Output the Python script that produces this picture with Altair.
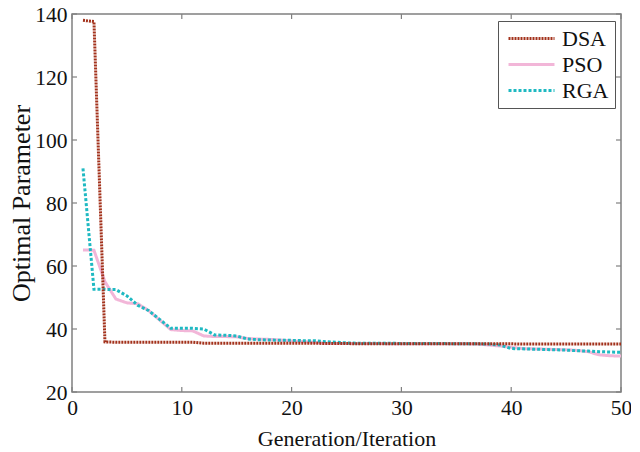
import altair as alt
import pandas as pd

gens = list(range(1, 51))

dsa = [138.0, 137.6, 35.9, 35.8, 35.8, 35.8, 35.8, 35.8, 35.8, 35.8,
       35.8, 35.5, 35.5, 35.5, 35.5, 35.5, 35.5, 35.5, 35.5, 35.5,
       35.5, 35.5, 35.4, 35.4, 35.4, 35.3, 35.3, 35.3, 35.3, 35.3,
       35.3, 35.3, 35.3, 35.3, 35.3, 35.3, 35.3, 35.3, 35.3, 35.3,
       35.2, 35.2, 35.2, 35.2, 35.2, 35.2, 35.2, 35.2, 35.2, 35.2]

pso = [65.1, 65.0, 55.0, 49.5, 48.3, 48.0, 45.8, 42.8, 39.8, 39.5,
       39.4, 37.8, 37.6, 37.6, 37.5, 37.0, 36.8, 36.7, 36.5, 36.2,
       36.0, 35.8, 35.5, 35.4, 35.4, 35.4, 35.4, 35.4, 35.3, 35.3,
       35.3, 35.3, 35.3, 35.3, 35.3, 35.3, 35.2, 34.9, 34.6, 34.2,
       33.8, 33.7, 33.6, 33.5, 33.4, 33.2, 32.8, 31.8, 31.5, 31.4]

rga = [91.0, 52.6, 52.6, 52.5, 50.5, 47.5, 45.8, 43.0, 40.2, 40.2,
       40.2, 40.0, 38.1, 38.0, 37.8, 36.8, 36.6, 36.5, 36.4, 36.4,
       36.3, 36.3, 36.0, 35.8, 35.6, 35.5, 35.5, 35.5, 35.5, 35.4,
       35.4, 35.4, 35.4, 35.4, 35.3, 35.3, 35.3, 35.2, 34.9, 33.8,
       33.7, 33.6, 33.5, 33.4, 33.3, 33.1, 33.0, 32.8, 32.7, 32.6]

series_names = ["DSA", "PSO", "RGA"]
series_colors = ["#a3321c", "#f2b6d8", "#1fb9c2"]
series_dash = [[2, 1], [1, 0], [3, 2]]

x_ticks = [0, 10, 20, 30, 40, 50]
y_ticks = [20, 40, 60, 80, 100, 120, 140]

rows = []
for name, vals in [("PSO", pso), ("RGA", rga), ("DSA", dsa)]:
    for g, v in zip(gens, vals):
        rows.append({"gen": g, "value": v, "series": name})
df = pd.DataFrame(rows)

W, H = 549, 378
FONT = "Liberation Serif"

xscale = alt.Scale(domain=[0, 50], nice=False, zero=False)
yscale = alt.Scale(domain=[20, 140], nice=False, zero=False)

leg = alt.Legend(title=None, orient="none", legendX=426, legendY=7)

lines = alt.Chart(df).mark_line(strokeWidth=3).encode(
    x=alt.X("gen:Q", scale=xscale,
            axis=alt.Axis(values=x_ticks, title="Generation/Iteration", grid=False,
                          domain=False, ticks=False, labelPadding=5, titlePadding=10,
                          labelFlush=False, titleFontSize=22)),
    y=alt.Y("value:Q", scale=yscale,
            axis=alt.Axis(values=y_ticks, title="Optimal Parameter", grid=False,
                          domain=False, ticks=False, labelPadding=5, titlePadding=0,
                          labelFlush=False, titleFontSize=26, labelOffset=1)),
    color=alt.Color("series:N",
                    scale=alt.Scale(domain=series_names, range=series_colors),
                    legend=leg),
    strokeDash=alt.StrokeDash("series:N",
                              scale=alt.Scale(domain=series_names, range=series_dash),
                              legend=leg),
    detail="series:N",
)

xt = pd.DataFrame({"t": x_ticks})
yt = pd.DataFrame({"t": y_ticks})
tick_style = dict(color="#808080", strokeWidth=1.2)

xb = alt.Chart(xt).mark_rule(**tick_style).encode(
    x=alt.X("t:Q", scale=xscale), y=alt.value(H), y2=alt.value(H - 5))
xtop = alt.Chart(xt).mark_rule(**tick_style).encode(
    x=alt.X("t:Q", scale=xscale), y=alt.value(0), y2=alt.value(5))
yl = alt.Chart(yt).mark_rule(**tick_style).encode(
    y=alt.Y("t:Q", scale=yscale), x=alt.value(0), x2=alt.value(5))
yr = alt.Chart(yt).mark_rule(**tick_style).encode(
    y=alt.Y("t:Q", scale=yscale), x=alt.value(W), x2=alt.value(W - 5))

chart = alt.layer(xb, xtop, yl, yr, lines).properties(
    width=W, height=H,
    autosize=alt.AutoSizeParams(type="none"),
    padding={"left": 64, "top": 6, "right": 10, "bottom": 60},
).configure_view(
    stroke="#808080", strokeWidth=1.5
).configure_axis(
    labelFont=FONT, labelFontSize=21.5, labelColor="#111",
    titleFont=FONT, titleFontWeight="normal", titleColor="#111",
).configure_legend(
    labelFont=FONT, labelFontSize=22, labelColor="#111",
    symbolType="M-0.7,0L3.9,0", symbolSize=400, symbolStrokeWidth=3,
    strokeColor="#555", fillColor="white", padding=6, rowPadding=3,
    labelOffset=35, cornerRadius=0,
)

chart.save("out.html", embed_options={"renderer": "svg", "actions": False})
